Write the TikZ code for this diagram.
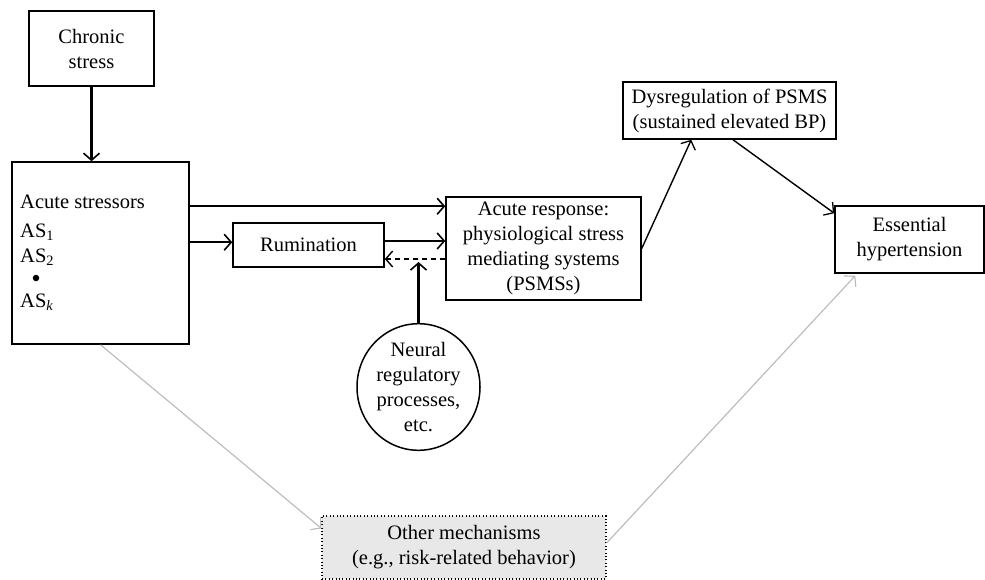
\documentclass[tikz,border=0pt]{standalone}
\usepackage{fontspec}
\setmainfont{Liberation Serif}
\usetikzlibrary{arrows.meta,calc,shapes.geometric}
\tikzset{
  box/.style={draw, line width=1.5pt, rectangle, inner sep=0pt, align=center,
    font=\fontsize{20.5}{25}\selectfont},
  txt/.style={inner sep=0pt, anchor=base west, font=\fontsize{20.5}{25}\selectfont},
  arr/.style={line width=2.2pt, -{Straight Barb[length=7pt,width=16pt,line width=1.6pt]}},
  thinarr/.style={line width=1.4pt, -{Straight Barb[length=7pt,width=16pt,line width=1.3pt]}},
  grayarr/.style={line width=1.1pt, draw={rgb,255:red,185;green,185;blue,185},
    -{Straight Barb[length=7pt,width=16pt,line width=1.1pt]}},
  dasharr/.style={line width=1.6pt, dash pattern=on 5pt off 4pt,
    -{Straight Barb[length=7pt,width=16pt,line width=1.4pt]}},
}
\begin{document}
\begin{tikzpicture}[x=1pt,y=-1pt]
\useasboundingbox (0,0) rectangle (985,580);
% nodes
\node[box, minimum width=125pt, minimum height=75pt] (chronic) at (91.5,48.5) {Chronic\\stress};
\node[box, minimum width=177pt, minimum height=182pt] (acute) at (100.5,253) {};
\node[txt] (t0) at (20,208) {Acute stressors};
\node[txt] (t1) at (20,237) {AS\textsubscript{1}};
\node[txt] (t2) at (20,262) {AS\textsubscript{2}};
\node[circle, fill, inner sep=0pt, minimum size=6.5pt] (dot) at (36,278) {};
\node[txt] (t3) at (20,307) {AS\textsubscript{\itshape k}};
\node[box, minimum width=151pt, minimum height=44pt] (rum) at (308.5,245) {Rumination};
\node[box, minimum width=195pt, minimum height=103pt] (psms) at (543.5,248.5)
  {Acute response:\\physiological stress\\mediating systems\\(PSMSs)};
\node[box, minimum width=213pt, minimum height=57pt] (dys) at (729.5,110.5)
  {Dysregulation of PSMS\\(sustained elevated BP)};
\node[box, minimum width=149pt, minimum height=67pt] (ess) at (909.5,239.5)
  {Essential\\hypertension};
\node[box, ellipse, minimum width=123pt, minimum height=116pt] (neural) at (418.5,387)
  {Neural\\regulatory\\processes,\\etc.};
\node[box, fill={rgb,255:red,232;green,232;blue,232}, line width=1.2pt,
  dash pattern=on 1pt off 2.4pt, minimum width=284pt, minimum height=63pt] (other) at (464,547.5)
  {Other mechanisms\\(e.g., risk-related behavior)};
% connectors
\draw[arr] (chronic.south) -- (chronic.south |- acute.north);
\coordinate (a1) at ($(acute.north east)+(0,45)$);
\draw[arr] (a1) -- (psms.west |- a1);
\coordinate (a2) at ($(acute.north east)+(0,81)$);
\draw[arr] (a2) -- (rum.west |- a2);
\coordinate (r1) at ($(rum.east)+(0,-4)$);
\draw[arr] (r1) -- (psms.west |- r1);
\coordinate (fb) at ($(rum.east)+(0,14)$);
\draw[dasharr] (psms.west |- fb) -- (fb);
\draw[arr] (neural.north) -- ($(neural.north |- fb)+(0,3)$);
\draw[thinarr] (psms.east) -- ($(dys.south west)+(69,0)$);
\draw[thinarr] ($(dys.south)+(3.5,0)$) -- ($(ess.north west)+(0,8)$);
\draw[grayarr] (acute.south) -- ($(other.north west)+(0,13)$);
\draw[grayarr] ($(other.east)+(0,-4.5)$) -- ($(ess.south west)+(21,2)$);
\end{tikzpicture}
\end{document}
